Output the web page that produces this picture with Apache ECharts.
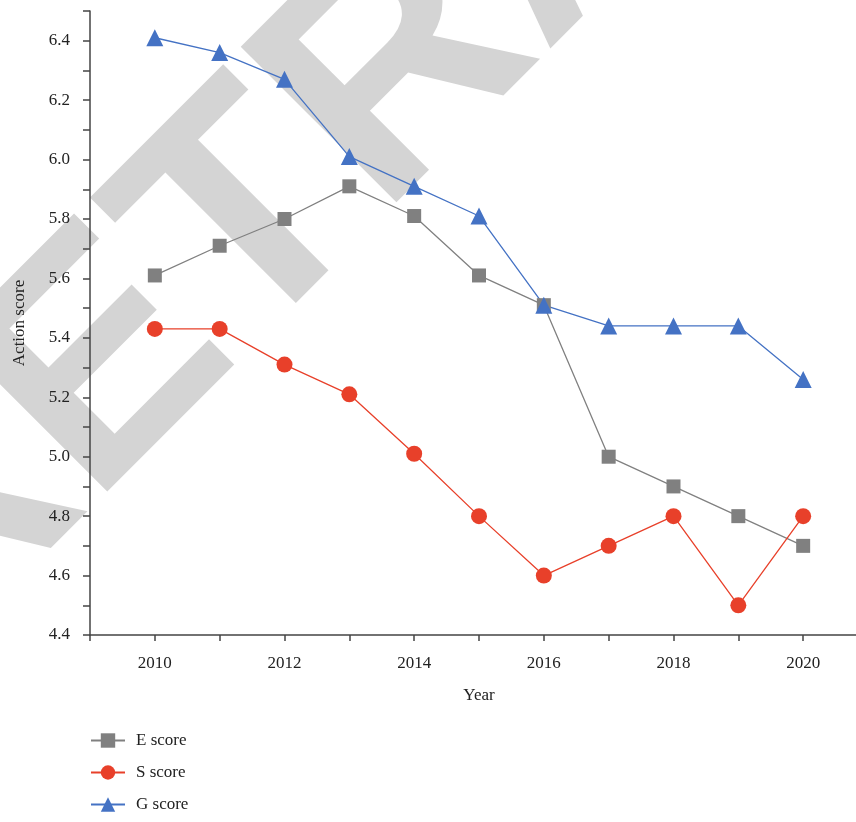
<!DOCTYPE html>
<html>
<head>
<meta charset="utf-8">
<script src="https://cdn.jsdelivr.net/npm/echarts@6/dist/echarts.min.js"></script>
<style>html,body{margin:0;padding:0;background:#fff}#c{width:856px;height:822px}</style>
</head>
<body>
<div id="c"></div>
<script>
var years = [2010, 2011, 2012, 2013, 2014, 2015, 2016, 2017, 2018, 2019, 2020];
var eScore = [5.61, 5.71, 5.80, 5.91, 5.81, 5.61, 5.51, 5.00, 4.90, 4.80, 4.70];
var sScore = [5.43, 5.43, 5.31, 5.21, 5.01, 4.80, 4.60, 4.70, 4.80, 4.50, 4.80];
var gScore = [6.41, 6.36, 6.27, 6.01, 5.91, 5.81, 5.51, 5.44, 5.44, 5.44, 5.26];
var seriesNames = ['E score', 'S score', 'G score'];

function pairs(v) { return years.map(function (y, i) { return [y, v[i]]; }); }
var FONT = '"Liberation Serif", "DejaVu Serif", serif';
var chart = echarts.init(document.getElementById('c'));
chart.setOption({
  backgroundColor: '#fff',
  animation: false,
  textStyle: { fontFamily: FONT },
  graphic: [{
    type: 'text', z: -10,
    x: 564, y: -90, rotation: Math.PI / 4,
    style: {
      text: 'RETRACTED', fill: '#d4d4d4',
      font: 'bold 320px "Liberation Sans", Arial, sans-serif',
      textAlign: 'center', textVerticalAlign: 'middle'
    }
  }],
  grid: { left: 90, right: -12, top: 11, bottom: 187, containLabel: false, outerBoundsMode: 'none' },
  legend: {
    orient: 'vertical', left: 90, top: 732, padding: 0, itemGap: 15, itemWidth: 34, itemHeight: 18,
    textStyle: { fontFamily: FONT, fontSize: 17, color: '#222', padding: [0, 0, 0, 6] },
    data: seriesNames
  },
  xAxis: {
    type: 'value', min: 2009, max: 2021, interval: 1,
    name: 'Year', nameLocation: 'middle', nameGap: 52,
    nameTextStyle: { fontFamily: FONT, fontSize: 17, color: '#222' },
    axisLine: { lineStyle: { color: '#444', width: 1.5 } },
    axisTick: { show: true, length: 6, lineStyle: { color: '#444', width: 1.5 } },
    axisLabel: { fontFamily: FONT, fontSize: 17, color: '#222', margin: 20,
      formatter: function (v) { return (v % 2 === 0) ? String(v) : ''; } },
    splitLine: { show: false }
  },
  yAxis: {
    type: 'value', min: 4.4, max: 6.5, interval: 0.1,
    name: 'Action score', nameLocation: 'middle', nameGap: 62,
    nameTextStyle: { fontFamily: FONT, fontSize: 17, color: '#222' },
    axisLine: { show: true, lineStyle: { color: '#444', width: 1.5 } },
    axisTick: { show: true, length: 7, lineStyle: { color: '#444', width: 1.5 } },
    axisLabel: { fontFamily: FONT, fontSize: 17, color: '#222', margin: 20,
      formatter: function (v) { var k = Math.round(v * 10); return (k % 2 === 0 && k !== 65) ? (k / 10).toFixed(1) : ''; } },
    splitLine: { show: false }
  },
  series: [
    { name: seriesNames[0], type: 'line', data: pairs(eScore), symbol: 'rect', symbolSize: 14,
      itemStyle: { color: '#808080' }, lineStyle: { color: '#808080', width: 1.3 } },
    { name: seriesNames[1], type: 'line', data: pairs(sScore), symbol: 'circle', symbolSize: 16,
      itemStyle: { color: '#e8402a' }, lineStyle: { color: '#e8402a', width: 1.3 } },
    { name: seriesNames[2], type: 'line', data: pairs(gScore), symbol: 'triangle', symbolSize: 17,
      itemStyle: { color: '#4472c4' }, lineStyle: { color: '#4472c4', width: 1.3 } }
  ]
});
</script>
</body>
</html>
